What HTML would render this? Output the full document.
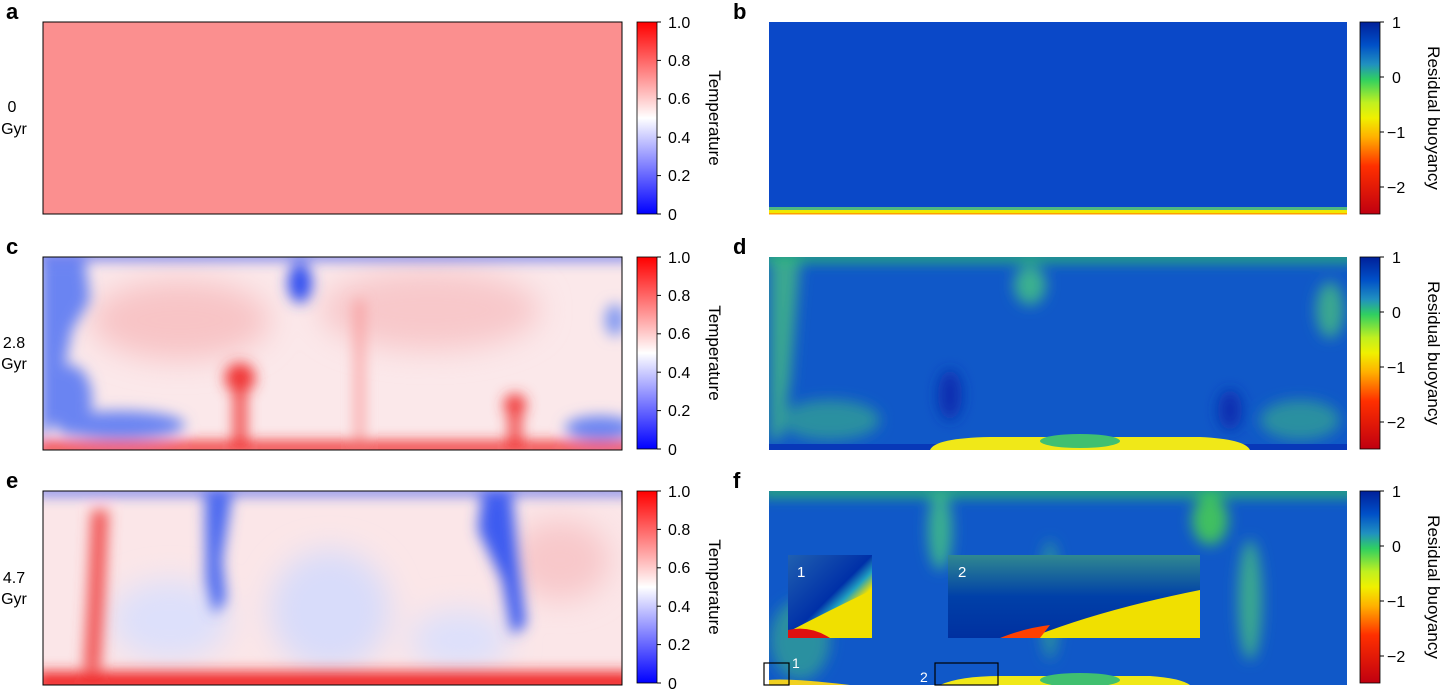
<!DOCTYPE html><html><head><style>
body{margin:0;background:#fff;width:1440px;height:689px;overflow:hidden}
svg{display:block}
text{font-family:"Liberation Sans",sans-serif}
</style></head><body>
<svg width="1440" height="689" viewBox="0 0 1440 689" xmlns="http://www.w3.org/2000/svg">
<defs>
<linearGradient id="tc" x1="0" y1="1" x2="0" y2="0">
<stop offset="0" stop-color="#0000ff"/><stop offset="0.5" stop-color="#ffffff"/><stop offset="1" stop-color="#ff0000"/></linearGradient>
<linearGradient id="bc" x1="0" y1="0" x2="0" y2="1">
<stop offset="0" stop-color="#00209a"/><stop offset="0.12" stop-color="#0050c8"/><stop offset="0.22" stop-color="#2090c0"/><stop offset="0.3" stop-color="#30d060"/><stop offset="0.42" stop-color="#c0f020"/><stop offset="0.5" stop-color="#f0f000"/><stop offset="0.6" stop-color="#ffb000"/><stop offset="0.75" stop-color="#ff3000"/><stop offset="1" stop-color="#c00010"/></linearGradient>
<filter id="b8" x="-50%" y="-50%" width="200%" height="200%"><feGaussianBlur stdDeviation="7"/></filter>
<filter id="b15" x="-50%" y="-50%" width="200%" height="200%"><feGaussianBlur stdDeviation="15"/></filter>
<clipPath id="cc"><rect x="43" y="257" width="579" height="193"/></clipPath>
<clipPath id="ce"><rect x="43" y="491" width="579" height="194"/></clipPath>
<clipPath id="cd"><rect x="769" y="257" width="578" height="193"/></clipPath>
<clipPath id="cf"><rect x="769" y="491" width="578" height="194"/></clipPath>
<linearGradient id="in1" x1="0" y1="0" x2="1" y2="1"><stop offset="0" stop-color="#2060b0"/><stop offset="0.5" stop-color="#0030a8"/><stop offset="0.6" stop-color="#20a0c0"/><stop offset="0.7" stop-color="#f0e000"/><stop offset="1" stop-color="#f0c000"/></linearGradient>
<linearGradient id="in2" x1="0" y1="0" x2="0" y2="1"><stop offset="0" stop-color="#308890"/><stop offset="0.5" stop-color="#0040a8"/><stop offset="1" stop-color="#0030a0"/></linearGradient>
</defs>

<g font-weight="bold" font-size="22">
<text x="6" y="19">a</text><text x="733" y="19">b</text>
<text x="6" y="254">c</text><text x="733" y="254">d</text>
<text x="6" y="488">e</text><text x="733" y="488">f</text></g>
<g font-size="16" text-anchor="middle">
<text x="12" y="112">0</text><text x="14" y="134">Gyr</text>
<text x="14" y="348">2.8</text><text x="14" y="369">Gyr</text>
<text x="14" y="583">4.7</text><text x="14" y="604">Gyr</text></g>

<rect x="43" y="22" width="579" height="192" fill="#fb8f8f" stroke="#000" stroke-width="1"/>

<rect x="769" y="22" width="578" height="192" fill="#0a48c8"/>
<rect x="769" y="207" width="578" height="3" fill="#50b880"/>
<rect x="769" y="210" width="578" height="3" fill="#f0e800"/>
<rect x="769" y="213" width="578" height="1.5" fill="#ffa000"/>

<g clip-path="url(#cc)">
<rect x="43" y="257" width="579" height="193" fill="#fbe8ea"/>
<g filter="url(#b15)">
<ellipse cx="180" cy="320" rx="90" ry="40" fill="#f8c4c6"/>
<ellipse cx="430" cy="310" rx="110" ry="40" fill="#f8c8ca"/>
</g>
<g filter="url(#b8)">
<rect x="35" y="252" width="600" height="7" fill="#3050f0"/>
<path d="M40 260 L85 260 L90 300 L72 330 L62 380 L55 420 L40 440 Z" fill="#6a84f2"/>
<ellipse cx="120" cy="425" rx="65" ry="14" fill="#6a84f2"/>
<ellipse cx="70" cy="400" rx="22" ry="35" fill="#6a84f2"/>
<ellipse cx="600" cy="428" rx="35" ry="12" fill="#6a84f2"/>
<ellipse cx="615" cy="320" rx="10" ry="16" fill="#8098f2"/>
<ellipse cx="300" cy="283" rx="12" ry="20" fill="#3050f0"/>
<ellipse cx="240" cy="378" rx="15" ry="15" fill="#f03030"/>
<rect x="234" y="380" width="12" height="70" fill="#f04040"/>
<ellipse cx="515" cy="405" rx="11" ry="11" fill="#f03030"/>
<rect x="509" y="405" width="12" height="45" fill="#f04040"/>
<rect x="356" y="300" width="7" height="150" fill="#f89090"/>
<rect x="35" y="442" width="600" height="12" fill="#f02020"/>
</g>
</g>
<rect x="43" y="257" width="579" height="193" fill="none" stroke="#000"/>

<g clip-path="url(#ce)">
<rect x="43" y="491" width="579" height="194" fill="#fbe6e8"/>
<g filter="url(#b15)">
<ellipse cx="170" cy="620" rx="60" ry="40" fill="#dde0fb"/>
<ellipse cx="330" cy="610" rx="60" ry="60" fill="#d8dcfa"/>
<ellipse cx="460" cy="640" rx="50" ry="30" fill="#dde0fb"/>
<ellipse cx="560" cy="560" rx="50" ry="40" fill="#f8c8ca"/>
</g>
<g filter="url(#b8)">
<rect x="35" y="487" width="600" height="7" fill="#3050f0"/>
<path d="M205 495 L232 495 L222 560 L226 600 L214 615 L206 580 Z" fill="#4a68f0"/>
<path d="M482 495 L512 495 L518 560 L526 625 L512 635 L502 580 L478 530 Z" fill="#3c5cf0"/>
<path d="M92 510 L108 510 L104 600 L100 670 L84 670 L88 600 Z" fill="#f05050"/>
<rect x="35" y="672" width="600" height="20" fill="#f02020"/>
</g>
</g>
<rect x="43" y="491" width="579" height="194" fill="none" stroke="#000"/>

<g clip-path="url(#cd)">
<rect x="769" y="257" width="578" height="193" fill="#1058c8"/>
<g filter="url(#b8)">
<rect x="760" y="252" width="600" height="9" fill="#30c860"/>
<path d="M770 262 L800 262 L795 320 L790 380 L780 440 L770 440 Z" fill="#3aa890"/>
<ellipse cx="1030" cy="285" rx="16" ry="20" fill="#3ab090"/>
<ellipse cx="830" cy="420" rx="50" ry="20" fill="#2a90a0"/>
<ellipse cx="1330" cy="310" rx="14" ry="28" fill="#3aa890"/>
<ellipse cx="1300" cy="420" rx="40" ry="20" fill="#2a90a0"/>
<ellipse cx="950" cy="395" rx="12" ry="25" fill="#0a2eb0"/>
<ellipse cx="1230" cy="410" rx="12" ry="20" fill="#0a2eb0"/>
</g>
<rect x="769" y="444" width="578" height="6" fill="#0838b8"/>
<path d="M930 450 Q935 438 990 437 L1200 437 Q1245 439 1250 450 Z" fill="#f0e818"/>
<ellipse cx="1080" cy="441" rx="40" ry="7" fill="#40c070"/>
</g>

<g clip-path="url(#cf)">
<rect x="769" y="491" width="578" height="194" fill="#1058c8"/>
<g filter="url(#b8)">
<rect x="760" y="486" width="600" height="10" fill="#30c860"/>
<ellipse cx="940" cy="530" rx="12" ry="40" fill="#3ab090"/>
<ellipse cx="1210" cy="520" rx="18" ry="25" fill="#40c060"/>
<ellipse cx="1250" cy="600" rx="12" ry="60" fill="#3aa890"/>
<ellipse cx="1050" cy="600" rx="10" ry="60" fill="#2a90a0"/>
<ellipse cx="800" cy="640" rx="30" ry="40" fill="#2a90a0"/>
</g>
<path d="M769 685 L769 680 Q790 678 850 685 Z" fill="#f0d020"/>
<path d="M940 685 Q960 676 1000 676 L1150 676 Q1180 678 1190 685 Z" fill="#f0e818"/>
<ellipse cx="1080" cy="680" rx="40" ry="7" fill="#40c070"/>
</g>
<rect x="788" y="555" width="84" height="83" fill="url(#in1)"/>
<path d="M788 638 L788 632 Q830 610 872 590 L872 638 Z" fill="#f0e000"/>
<path d="M788 638 L788 630 Q810 625 830 638 Z" fill="#e01010"/>
<text x="797" y="577" fill="#fff" font-size="15">1</text>
<rect x="948" y="555" width="252" height="83" fill="url(#in2)"/>
<path d="M1030 638 Q1100 610 1200 590 L1200 638 Z" fill="#f0e000"/>
<path d="M1000 638 Q1025 628 1050 625 L1040 638 Z" fill="#ff4000"/>
<text x="958" y="577" fill="#fff" font-size="15">2</text>
<rect x="764" y="663" width="25" height="22" fill="none" stroke="#000" stroke-width="1.2"/>
<rect x="935" y="663" width="63" height="22" fill="none" stroke="#000" stroke-width="1.2"/>
<text x="792" y="668" fill="#fff" font-size="14">1</text>
<text x="920" y="682" fill="#fff" font-size="14">2</text>

<g font-size="16">
<g id="tcb">
<rect x="637" y="22" width="20" height="192" fill="url(#tc)" stroke="#000" stroke-width="0.8"/>
<g stroke="#000"><line x1="657" y1="22" x2="661" y2="22"/><line x1="657" y1="60.4" x2="661" y2="60.4"/><line x1="657" y1="98.8" x2="661" y2="98.8"/><line x1="657" y1="137.2" x2="661" y2="137.2"/><line x1="657" y1="175.6" x2="661" y2="175.6"/><line x1="657" y1="214" x2="661" y2="214"/></g>
<text x="668" y="28">1.0</text><text x="668" y="66">0.8</text><text x="668" y="104">0.6</text><text x="668" y="143">0.4</text><text x="668" y="181">0.2</text><text x="668" y="220">0</text>
<text transform="translate(709,118) rotate(90)" text-anchor="middle" font-size="17">Temperature</text>
</g>
<use href="#tcb" y="235"/>
<use href="#tcb" y="469"/>
<g id="bcb">
<rect x="1360" y="22" width="20" height="192" fill="url(#bc)" stroke="#000" stroke-width="0.8"/>
<g stroke="#000"><line x1="1380" y1="22" x2="1384" y2="22"/><line x1="1380" y1="77" x2="1384" y2="77"/><line x1="1380" y1="132" x2="1384" y2="132"/><line x1="1380" y1="187" x2="1384" y2="187"/></g>
<text x="1392" y="28">1</text><text x="1392" y="83">0</text><text x="1387" y="138">−1</text><text x="1387" y="193">−2</text>
<text transform="translate(1428,118) rotate(90)" text-anchor="middle" font-size="17">Residual buoyancy</text>
</g>
<use href="#bcb" y="235"/>
<use href="#bcb" y="469"/>
</g>
</svg>
</body></html>
